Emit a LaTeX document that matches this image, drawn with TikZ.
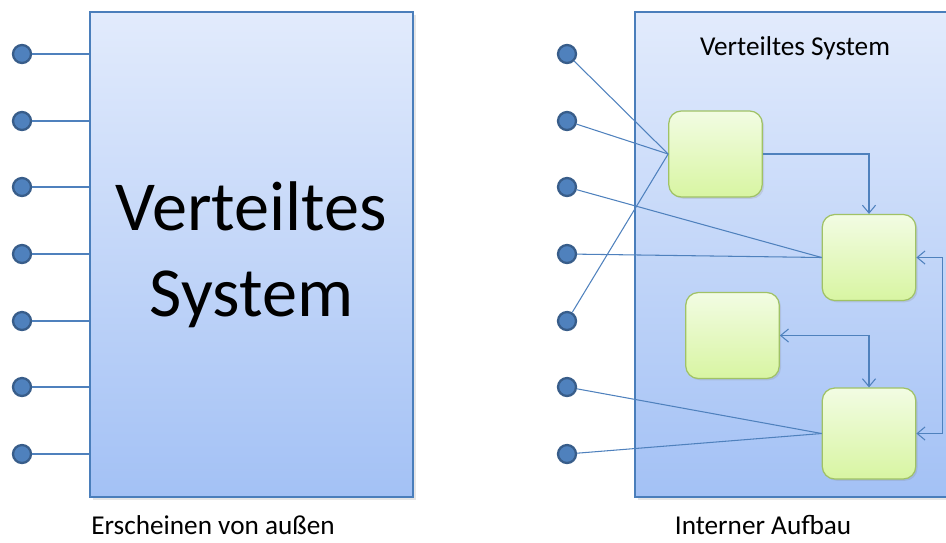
\documentclass[tikz,border=0pt]{standalone}
\usepackage{fontspec}
\setmainfont{Carlito}
\usetikzlibrary{arrows.meta,shadows}
\definecolor{boxtop}{HTML}{E2EBFC}
\definecolor{boxbot}{HTML}{A3C1F5}
\definecolor{boxline}{HTML}{4A7EBB}
\definecolor{porfill}{HTML}{4F81BD}
\definecolor{porline}{HTML}{385D8A}
\definecolor{comptop}{HTML}{F2FCE3}
\definecolor{compbot}{HTML}{D8F5A2}
\definecolor{compline}{HTML}{A0C266}

\begin{document}
\begin{tikzpicture}[x=0.02cm,y=-0.02cm,
  sysbox/.style={draw=boxline,line width=0.7pt,top color=boxtop,bottom color=boxbot,
    drop shadow={opacity=0.2,shadow xshift=1.5pt,shadow yshift=-1.5pt}},
  port/.style={circle,draw=porline,fill=porfill,line width=1.3pt,minimum size=0.36cm,inner sep=0pt},
  comp/.style={draw=compline,line width=0.7pt,rounded corners=0.25cm,top color=comptop,bottom color=compbot,
    minimum width=1.87cm,minimum height=1.72cm,
    drop shadow={opacity=0.2,shadow xshift=1pt,shadow yshift=-1pt}},
  wire/.style={draw=porfill,line width=0.6pt},
  caption/.style={font=\fontsize{15.5}{18}\selectfont,inner sep=0pt,anchor=base},
  >={Straight Barb[length=4.5pt,width=7.5pt]}]
\clip (0,0) rectangle (946,542);
% outside view
\node[sysbox,minimum width=6.46cm,minimum height=9.7cm,align=center,
  font=\fontsize{40}{49}\selectfont] (outer) at (251.5,254.5) {Verteiltes\\System};
\foreach \i/\y in {1/54,2/121,3/187,4/254,5/321,6/387,7/454}{
  \node[port] (l\i) at (22,\y) {};
  \draw[wire] (l\i) -- (l\i -| outer.west);
}
\node[caption] (ltxt) at (213,534) {Erscheinen von außen};
% inside view
\node[sysbox,minimum width=6.4cm,minimum height=9.7cm] (inner) at (795,254.5) {};
\node[caption] (title) at (795,55) {Verteiltes System};
\foreach \i/\y in {1/54,2/121,3/187,4/254,5/321,6/387,7/454}
  \node[port] (r\i) at (567,\y) {};
\node[comp] (A) at (715.5,154) {};
\node[comp] (B) at (869,257.5) {};
\node[comp] (C) at (732.5,335.5) {};
\node[comp,minimum height=1.82cm] (D) at (869,433.5) {};
\draw[wire] (r1) -- (A.west);
\draw[wire] (r2) -- (A.west);
\draw[wire] (r5) -- (A.west);
\draw[wire] (r3) -- (B.west);
\draw[wire] (r4) -- (B.west);
\draw[wire] (r6) -- (D.west);
\draw[wire] (r7) -- (D.west);
\draw[wire,->] (A.east) -| (B.north);
\draw[wire,<->] (B.east) -- ++(26,0) |- (D.east);
\draw[wire,<->] (C.east) -| (D.north);
\node[caption] (rtxt) at (763,534) {Interner Aufbau};
\end{tikzpicture}
\end{document}
